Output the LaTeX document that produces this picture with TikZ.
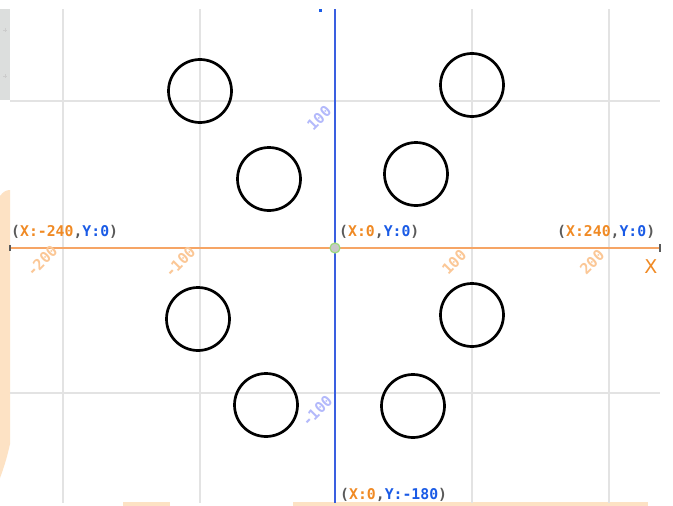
\documentclass[tikz,border=0pt]{standalone}
\usepackage{fontspec}
\newfontfamily\scrfont{DejaVu Sans Mono}
\newfontfamily\axfont{DejaVu Sans}
\definecolor{gridc}{HTML}{E3E3E3}
\definecolor{peach}{HTML}{FDE2C4}
\definecolor{panel}{HTML}{DCDEDD}
\definecolor{xaxis}{HTML}{F6A565}
\definecolor{yaxis}{HTML}{3A5FE0}
\definecolor{otext}{HTML}{F08A24}
\definecolor{btext}{HTML}{1A5BE6}
\definecolor{ptext}{HTML}{5A5A5A}
\definecolor{lorange}{HTML}{FBC796}
\definecolor{lblue}{HTML}{B3B9FB}
\definecolor{dotfill}{HTML}{C8C8C8}
\definecolor{dotline}{HTML}{9EDB7E}
\tikzset{
  gridline/.style={gridc, line width=1.6pt},
  ring/.style={circle, draw=black, line width=2.7pt, minimum size=63pt, inner sep=0pt},
  coord/.style={font=\scrfont\bfseries\fontsize{14.8}{14.8}\selectfont, inner sep=0pt, anchor=west},
  xtick/.style={font=\scrfont\bfseries\fontsize{15}{15}\selectfont, text=lorange, rotate=45, inner sep=0pt},
  ytick/.style={font=\scrfont\bfseries\fontsize{15}{15}\selectfont, text=lblue, rotate=45, inner sep=0pt},
}
\newcommand{\pt}[1]{\textcolor{ptext}{#1}}
\newcommand{\xo}[1]{\textcolor{otext}{#1}}
\newcommand{\yb}[1]{\textcolor{btext}{#1}}
\begin{document}
\begin{tikzpicture}[x=1pt,y=-1pt]
\useasboundingbox (0,0) rectangle (673,506);
\fill[white] (0,0) rectangle (673,506);
% side decorations
\fill[panel] (0,9) rectangle (10,100);
\draw[gray!40, line width=0.6pt] (3,30) -- (7,30) (5,28) -- (5,32);
\draw[gray!40, line width=0.6pt] (3,76) -- (7,76) (5,74) -- (5,78);
\fill[peach] (0,196) .. controls (3,192) and (6,190) .. (10,190) -- (10,444) .. controls (7,458) and (3,470) .. (0,478) -- cycle;
\fill[peach] (123,502) rectangle (170,506);
\fill[peach] (293,502) rectangle (648,506);
% grid
\draw[gridline] (63,9) -- (63,503);
\draw[gridline] (200,9) -- (200,503);
\draw[gridline] (472,9) -- (472,503);
\draw[gridline] (609,9) -- (609,503);
\draw[gridline] (10,101) -- (660,101);
\draw[gridline] (10,393) -- (660,393);
% axes
\coordinate (xl) at (10,248);
\coordinate (xr) at (660,248);
\coordinate (yt) at (335,9);
\coordinate (yb) at (335,503);
\draw[xaxis, line width=1.6pt] (xl) -- (xr);
\draw[yaxis, line width=1.4pt] (yt) -- (yb);
\draw[ptext, line width=1.2pt] (10,245) -- (10,251);
\draw[ptext, line width=1.2pt] (660,244) -- (660,252);
\fill[btext] (319,9) rectangle (321.5,12);
\node[circle, fill=dotfill, draw=dotline, line width=1.2pt, minimum size=10pt, inner sep=0pt] (o) at (335,248) {};
% circles
\node[ring] (c1) at (200,91) {};
\node[ring] (c2) at (472,85) {};
\node[ring] (c3) at (269,179) {};
\node[ring] (c4) at (416,174) {};
\node[ring] (c5) at (198,319) {};
\node[ring] (c6) at (472,315) {};
\node[ring] (c7) at (266,405) {};
\node[ring] (c8) at (413,406) {};
% coordinate labels
\node[coord] (l1) at (11,232) {\pt{(}\xo{X:-240}\pt{,}\yb{Y:0}\pt{)}};
\node[coord] (l2) at (339,232) {\pt{(}\xo{X:0}\pt{,}\yb{Y:0}\pt{)}};
\node[coord] (l3) at (557,232) {\pt{(}\xo{X:240}\pt{,}\yb{Y:0}\pt{)}};
\node[coord] (l4) at (340,495) {\pt{(}\xo{X:0}\pt{,}\yb{Y:-180}\pt{)}};
\node[font=\axfont\fontsize{19}{19}\selectfont, text=otext, inner sep=0pt] (xlab) at (651,267) {X};
% ticks
\node[xtick] (t1) at (42,261) {-200};
\node[xtick] (t2) at (180,262) {-100};
\node[xtick] (t3) at (454,262) {100};
\node[xtick] (t4) at (592,262) {200};
\node[ytick] (t5) at (319,118) {100};
\node[ytick] (t6) at (317,411) {-100};
\end{tikzpicture}
\end{document}
